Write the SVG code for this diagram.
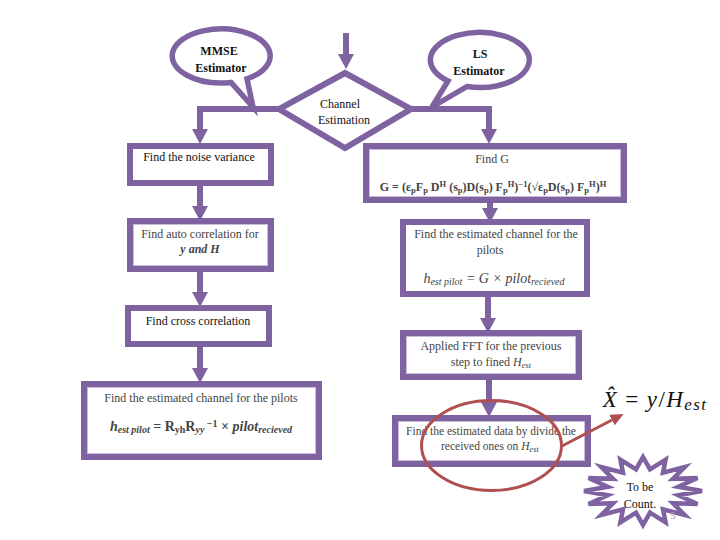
<svg xmlns="http://www.w3.org/2000/svg" width="720" height="540" viewBox="0 0 720 540">
<style>
.s{fill:#fff;stroke:#7f63a1;stroke-width:5.5}
.d{fill:#fff;stroke:#7f63a1;stroke-width:6}
.b{fill:#fff;stroke:#7f63a1;stroke-width:6}
.in{fill:none;stroke:#c9bcdc;stroke-width:1}
.c{fill:none;stroke:#7f63a1;stroke-width:6}
text{font-family:"Liberation Serif","Times New Roman",serif;font-size:12px;fill:#111;text-anchor:middle}
.g{fill:#444}
.bd{font-weight:bold}
.i{font-style:italic}
.n{font-style:normal}
.sm{font-size:8.5px}
.f{font-size:14px}
.f .sm{font-size:10px}
.t{font-size:11.5px}
.x{font-size:23px;letter-spacing:1.4px;fill:#111}
.x .e{font-size:17px;font-style:italic}
.p{font-size:11px;fill:#999}
</style>
<defs>
<marker id="h" markerUnits="userSpaceOnUse" markerWidth="16" markerHeight="16" refX="0" refY="8" orient="auto"><path d="M0,0L15,8L0,16Z" fill="#7f63a1"/></marker>
<marker id="r" markerUnits="userSpaceOnUse" markerWidth="14" markerHeight="12" refX="0" refY="6" orient="auto"><path d="M0,0L13,6L0,12Z" fill="#b04f50"/></marker>
</defs>
<g id="connectors">
<path class="c" d="M346,33V54" marker-end="url(#h)"/>
<path class="c" d="M280,109H200V129" marker-end="url(#h)"/>
<path class="c" d="M410,109H489V129" marker-end="url(#h)"/>
<path class="c" d="M200,186V206" marker-end="url(#h)"/>
<path class="c" d="M200,272V292" marker-end="url(#h)"/>
<path class="c" d="M200,347V368" marker-end="url(#h)"/>
<path class="c" d="M490,203V208" marker-end="url(#h)"/>
<path class="c" d="M488,297V318" marker-end="url(#h)"/>
<path class="c" d="M489,380V402" marker-end="url(#h)"/>
</g>
<g id="mmse"><path class="s" d="M231,82.4A49,27 0 1 1 247,78.9L253,107Z"/>
<text class="bd" x="219" y="55">MMSE</text><text class="bd" x="221" y="72">Estimator</text></g>
<g id="ls"><path class="s" d="M467,86.5A49.5,27.5 0 1 0 448,81L432,107Z"/>
<text class="bd" x="480" y="58">LS</text><text class="bd" x="479" y="75">Estimator</text></g>
<g id="channel"><path class="d" d="M345,73L411,109L345,148L279,109Z"/>
<text x="340" y="108">Channel</text><text x="344" y="124">Estimation</text></g>
<g id="noise"><rect class="b" x="130" y="146" width="141" height="37"/>
<text x="199" y="161">Find the noise variance</text></g>
<g id="findg"><rect class="b" x="366" y="146" width="258" height="54"/><rect class="in" x="369.500" y="149.500" width="251" height="47"/>
<text class="g" x="492" y="163">Find G</text>
<text class="g bd" x="493" y="191">G = (ε<tspan class="sm" dy="2">p</tspan><tspan dy="-2">F</tspan><tspan class="sm" dy="2">p</tspan><tspan dy="-2"> D</tspan><tspan class="sm" dy="-4">H</tspan><tspan dy="4"> (s</tspan><tspan class="sm" dy="2">p</tspan><tspan dy="-2">)D(s</tspan><tspan class="sm" dy="2">p</tspan><tspan dy="-2">) F</tspan><tspan class="sm" dy="2">p</tspan><tspan class="sm" dy="-6">H</tspan><tspan dy="4">)</tspan><tspan class="sm" dy="-4">−1</tspan><tspan dy="4">(√ε</tspan><tspan class="sm" dy="2">p</tspan><tspan dy="-2">D(s</tspan><tspan class="sm" dy="2">p</tspan><tspan dy="-2">) F</tspan><tspan class="sm" dy="2">p</tspan><tspan class="sm" dy="-6">H</tspan><tspan dy="4">)</tspan><tspan class="sm" dy="-4">H</tspan></text></g>
<g id="pilots-ls"><rect class="b" x="403" y="222" width="184" height="72"/>
<text class="g" x="496" y="238">Find the estimated channel for the</text>
<text class="g" x="490" y="254">pilots</text>
<text class="g i f" x="494" y="283">h<tspan class="sm" dy="2">est pilot</tspan><tspan dy="-2"> = G × pilot</tspan><tspan class="sm" dy="2">recieved</tspan></text></g>
<g id="fft"><rect class="b" x="403" y="333" width="176" height="44"/><rect class="in" x="406.500" y="336.500" width="169" height="37"/>
<text class="g" x="491" y="350">Applied FFT for the previous</text>
<text class="g" x="491" y="366">step to fined <tspan class="i">H</tspan><tspan class="i sm" dy="2">est</tspan></text></g>
<g id="divide"><rect class="b" x="395" y="418" width="193" height="46"/><rect class="in" x="398.500" y="421.500" width="186" height="39"/>
<text class="g t" x="491" y="435">Find the estimated data by divide the</text>
<text class="g t" x="490" y="450">received ones on <tspan class="i">H</tspan><tspan class="i sm" dy="2">est</tspan></text></g>
<g id="auto"><rect class="b" x="130" y="221" width="141" height="48"/><rect class="in" x="133.500" y="224.500" width="134" height="41"/>
<text class="g" x="200" y="238">Find auto correlation for</text>
<text class="g i bd" x="200" y="253">y and H</text></g>
<g id="cross"><rect class="b" x="128" y="308" width="141" height="36"/>
<text x="198" y="325">Find cross correlation</text></g>
<g id="pilots-mmse"><rect class="b" x="84" y="384" width="235" height="73"/><rect class="in" x="87.500" y="387.500" width="228" height="66"/>
<text class="g" x="201" y="402">Find the estimated channel for the pilots</text>
<text class="g i bd f" x="201" y="431">h<tspan class="sm" dy="2">est pilot</tspan><tspan class="n" dy="-2"> = R</tspan><tspan class="sm n" dy="2">yh</tspan><tspan class="n" dy="-2">R</tspan><tspan class="sm" dy="2">yy</tspan><tspan class="sm n" dy="-6"> −1</tspan><tspan class="n" dy="4"> × </tspan>pilot<tspan class="sm" dy="2">recieved</tspan></text></g>
<g id="circle"><ellipse cx="491.500" cy="445.500" rx="70" ry="45" fill="none" stroke="#b04f50" stroke-width="3"/>
<path d="M562,446L612,420" fill="none" stroke="#b04f50" stroke-width="3" marker-end="url(#r)"/></g>
<g id="formula"><text class="x" x="655" y="407"><tspan class="i">X̂</tspan> = <tspan class="i">y</tspan>/<tspan class="i">H</tspan><tspan class="e" dy="3">est</tspan></text></g>
<g id="count"><polygon fill="#fff" stroke="#7f63a1" stroke-width="4.500" points="702,491 678.300,495.300 697.500,504 672.900,503.200 684.700,515 663,509.300 665.600,522.400 650,512.600 643,525 636,512.600 620.400,522.400 623,509.300 601.300,515 613.100,503.200 588.500,504 607.700,495.300 584,491 607.700,486.700 588.500,478 613.100,478.800 601.300,467 623,472.700 620.400,459.600 636,469.400 643,457 650,469.400 665.600,459.600 663,472.700 684.700,467 672.900,478.800 697.500,478 678.300,486.700"/>
<text x="640" y="491">To be</text><text x="640" y="508">Count.</text>
<text class="p" x="673" y="519">5</text></g>
</svg>
